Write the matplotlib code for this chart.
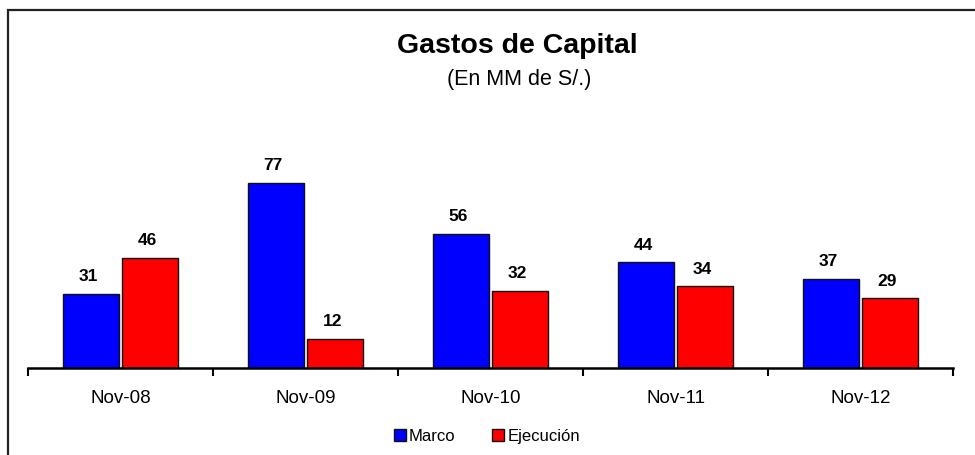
import numpy as np
import matplotlib.pyplot as plt
from matplotlib.patches import Rectangle

plt.rcParams['font.family'] = ['Liberation Sans', 'DejaVu Sans']

categorias = ['Nov-08', 'Nov-09', 'Nov-10', 'Nov-11', 'Nov-12']
marco = [31, 77, 56, 44, 37]
ejecucion = [46, 12, 32, 34, 29]

W, H = 975, 456
fig = plt.figure(figsize=(W / 100, H / 100), dpi=100)

# marco del grafico (borde izquierdo y superior visibles)
fig.patches.append(Rectangle((8 / W, -0.1), 1.2, 1 - 11 / H + 0.1,
                             transform=fig.transFigure, fill=False,
                             edgecolor='#222222', lw=1.6))

ax = fig.add_axes([28 / W, 1 - 369 / H, (953 - 28) / W, 240 / H])

x = np.arange(len(categorias))
w = 0.30
b1 = ax.bar(x - 0.16, marco, w, color='#0000ff', edgecolor='#111111', lw=1, label='Marco')
b2 = ax.bar(x + 0.16, ejecucion, w, color='#ff0000', edgecolor='#111111', lw=1, label='Ejecución')

for bars in (b1, b2):
    for r in bars:
        ax.annotate(f'{r.get_height():.0f}', (r.get_x() + r.get_width() / 2, r.get_height()),
                    xytext=(-2, 10), textcoords='offset points', ha='center', va='baseline',
                    fontsize=12.5, fontweight='bold')

ax.set_xlim(-0.5, len(categorias) - 0.5)
ax.set_ylim(0, 100)
for s in ['left', 'right', 'top']:
    ax.spines[s].set_visible(False)
ax.spines['bottom'].set_linewidth(1.8)
ax.set_yticks([])
ax.set_xticks(x)
ax.set_xticklabels(categorias, fontsize=13.5)
ax.tick_params(axis='x', which='major', length=0, pad=15)
ax.set_xticks(np.arange(-0.5, len(categorias)), minor=True)
ax.tick_params(axis='x', which='minor', length=6, width=1.5, direction='out')

fig.text(517 / W, 1 - 53 / H, 'Gastos de Capital', ha='center', va='baseline',
         fontsize=20.5, fontweight='bold')
fig.text(519 / W, 1 - 85 / H, '(En MM de S/.)', ha='center', va='baseline', fontsize=15.5)

fig.legend(loc='center', bbox_to_anchor=(487 / W, 1 - 437 / H), ncol=2, frameon=False,
           fontsize=12, handlelength=0.7, handleheight=0.7, handletextpad=0.2,
           columnspacing=2.2)

fig.savefig('out.png', dpi=100)
